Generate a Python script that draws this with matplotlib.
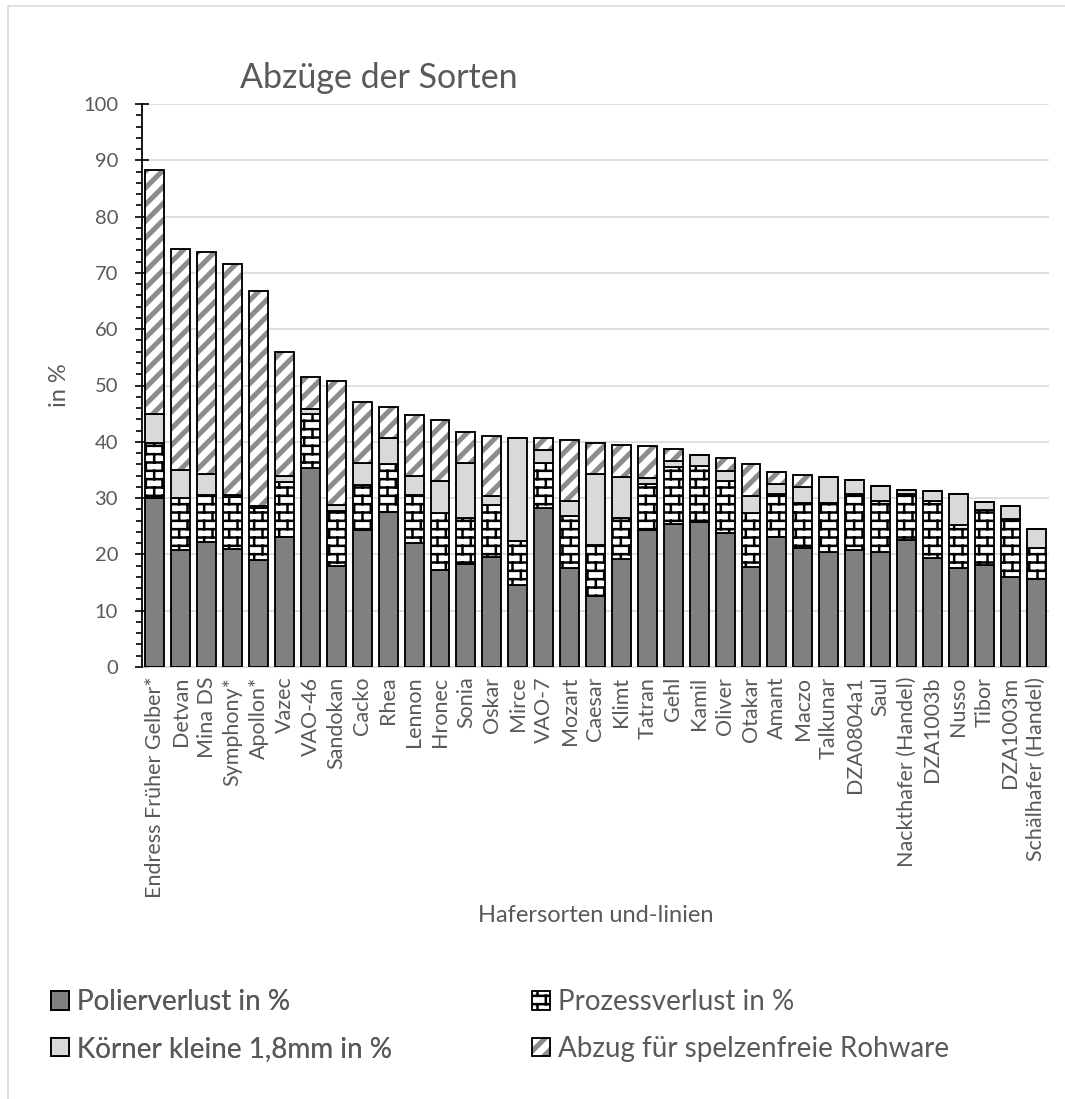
import warnings
import numpy as np
import matplotlib
matplotlib.use("Agg")
import matplotlib.pyplot as plt
import matplotlib.hatch as mhatch
from matplotlib.path import Path
from matplotlib.patches import Patch, Rectangle
from matplotlib.legend_handler import HandlerTuple
from matplotlib.ticker import MultipleLocator

warnings.filterwarnings("ignore", message="hatch must consist")

# ---------------------------------------------------------------- data
sorten = ["Endress Früher Gelber*", "Detvan", "Mina DS", "Symphony*", "Apollon*",
          "Vazec", "VAO-46", "Sandokan", "Cacko", "Rhea", "Lennon", "Hronec",
          "Sonia", "Oskar", "Mirce", "VAO-7", "Mozart", "Caesar", "Klimt",
          "Tatran", "Gehl", "Kamil", "Oliver", "Otakar", "Amant", "Maczo",
          "Talkunar", "DZA0804a1", "Saul", "Nackthafer (Handel)", "DZA1003b",
          "Nusso", "Tibor", "DZA1003m", "Schälhafer (Handel)"]

polierverlust = [30.0, 20.7, 22.2, 21.0, 19.0, 23.1, 35.4, 17.9, 24.4, 27.6,
                 22.1, 17.2, 18.3, 19.6, 14.5, 28.2, 17.6, 12.6, 19.1, 24.3,
                 25.4, 25.7, 23.8, 17.7, 23.1, 21.1, 20.5, 20.8, 20.5, 22.6,
                 19.3, 17.6, 18.1, 16.0, 15.6]
prozessverlust = [9.8, 9.3, 8.3, 9.2, 9.2, 9.8, 9.6, 9.8, 8.0, 8.5,
                  8.5, 10.1, 8.1, 9.2, 7.9, 8.0, 9.3, 9.1, 7.3, 8.2,
                  10.1, 10.0, 9.2, 9.6, 7.7, 8.0, 8.6, 9.9, 8.9, 8.2,
                  10.1, 7.6, 9.7, 10.2, 5.5]
koerner_klein = [5.1, 5.0, 3.7, 0.4, 0.4, 1.0, 0.9, 1.1, 3.8, 4.5,
                 3.4, 5.8, 9.8, 1.6, 18.3, 2.3, 2.6, 12.6, 7.4, 1.1,
                 1.1, 2.0, 1.9, 3.1, 1.7, 2.8, 4.6, 2.6, 2.7, 0.6,
                 1.8, 5.5, 1.5, 2.4, 3.5]
abzug_spelzenfrei = [43.3, 39.3, 39.6, 41.0, 38.1, 22.1, 5.6, 22.0, 10.8, 5.6,
                     10.8, 10.8, 5.6, 10.7, 0.0, 2.2, 10.8, 5.5, 5.6, 5.6,
                     2.2, 0.0, 2.2, 5.6, 2.2, 2.2, 0.0, 0.0, 0.0, 0.0,
                     0.0, 0.0, 0.0, 0.0, 0.0]

serien = ["Polierverlust in %", "Prozessverlust in %",
          "Körner kleine 1,8mm in %", "Abzug für spelzenfreie Rohware"]
titel = "Abzüge der Sorten"
x_titel = "Hafersorten und-linien"
y_titel = "in %"


# ------------------------------------------------------ brick hatch 'b'
class BrickHatch(mhatch.HatchPatternBase):
    rows = 12
    cols = 6

    def __init__(self, hatch, density):
        if hatch.count("b") > 0:
            self.num_vertices = 2 * (self.rows + self.rows * self.cols + self.cols)
        else:
            self.num_vertices = 0

    def set_vertices_and_codes(self, vertices, codes):
        h = 1.0 / self.rows
        w = 1.0 / self.cols
        ys = (np.arange(self.rows) + 0.5) * h
        verts = []
        for y in ys:
            verts += [(0.0, y), (1.0, y)]
        for i, y in enumerate(ys):
            off = w / 4 + (w / 2 if i % 2 else 0.0)
            for j in range(self.cols):
                xv = off + j * w
                verts += [(xv, y), (xv, min(y + h, 1.0))]
        # wrap of the last (odd) row below the first line
        for j in range(self.cols):
            xv = w / 4 + w / 2 + j * w
            verts += [(xv, 0.0), (xv, ys[0])]
        vertices[:] = np.array(verts)
        codes[0::2] = Path.MOVETO
        codes[1::2] = Path.LINETO


# ------------------------------------------- wide upward stripes 'w'
class WideStripeHatch(mhatch.HatchPatternBase):
    per_tile = 6
    offsets = (-0.018, 0.0, 0.018)

    def __init__(self, hatch, density):
        if hatch.count("w") > 0:
            n = 2 * self.per_tile + 1
            self.num_vertices = 2 * n * len(self.offsets)
        else:
            self.num_vertices = 0

    def set_vertices_and_codes(self, vertices, codes):
        verts = []
        for kk in range(-self.per_tile, self.per_tile + 1):
            c = kk / self.per_tile
            for d in self.offsets:
                verts += [(0.0, c + d), (1.0, 1.0 + c + d)]
        vertices[:] = np.array(verts)
        codes[0::2] = Path.MOVETO
        codes[1::2] = Path.LINETO


mhatch._hatch_types.append(BrickHatch)
mhatch._hatch_types.append(WideStripeHatch)

# --------------------------------------------------------------- style
plt.rcParams["font.family"] = ["Lato", "DejaVu Sans"]
plt.rcParams["hatch.linewidth"] = 1.8
TXT = "#595959"
GRID = "#d9d9d9"
DUNKEL = "#808080"
HELL = "#d9d9d9"
STREIFEN = "#8c8c8c"
EDGE_LW = 1.35

W, H = 1065, 1099
fig = plt.figure(figsize=(W / 100, H / 100), dpi=100)
fig.patch.set_facecolor("white")

# chart-area frame (left and top edges lie inside the canvas)
fig.patches.append(Rectangle((8 / W, -0.2), 1.5, 1.2 - 6 / H,
                             transform=fig.transFigure, fill=False,
                             edgecolor=GRID, lw=1.2))

ax_l, ax_r, ax_b, ax_t = 142, 1049, 667, 104
ax = fig.add_axes([ax_l / W, 1 - ax_b / H, (ax_r - ax_l) / W, (ax_b - ax_t) / H])

x = np.arange(len(sorten))
bw = 0.73
p = np.array(polierverlust)
q = np.array(prozessverlust)
k = np.array(koerner_klein)
a = np.array(abzug_spelzenfrei)

ax.bar(x, p, bw, color=DUNKEL, edgecolor="black", lw=EDGE_LW, zorder=3)
ax.bar(x, q, bw, bottom=p, facecolor="white", edgecolor="black",
       hatch="b", lw=EDGE_LW, zorder=3)
ax.bar(x, k, bw, bottom=p + q, color=HELL, edgecolor="black", lw=EDGE_LW, zorder=3)
ax.bar(x, a, bw, bottom=p + q + k, facecolor="white",
       edgecolor=STREIFEN, hatch="w", lw=0, zorder=3)
ax.bar(x, a, bw, bottom=p + q + k, fill=False, edgecolor="black",
       lw=EDGE_LW, zorder=4)

ax.set_xlim(-0.5, len(sorten) - 0.5)
ax.set_ylim(0, 100)
ax.yaxis.set_major_locator(MultipleLocator(10))
ax.yaxis.set_minor_locator(MultipleLocator(2))
ax.set_xticks(x)
ax.set_xticklabels(sorten, rotation=90, fontsize=15.5, color=TXT)
ax.tick_params(axis="x", length=0, pad=7)
ax.tick_params(axis="y", which="major", direction="inout", length=9.5,
               width=1.2, color="black", pad=12.5, labelsize=14.5,
               labelcolor=TXT)
ax.tick_params(axis="y", which="minor", direction="out", length=4.5,
               width=1.2, color="black")

ax.grid(axis="y", color=GRID, lw=1.2, zorder=0)
ax.set_axisbelow(True)
for s in ("top", "right"):
    ax.spines[s].set_visible(False)
ax.spines["left"].set_color("black")
ax.spines["left"].set_linewidth(1.3)
ax.spines["left"].set_zorder(5)
ax.spines["bottom"].set_color(GRID)
ax.spines["bottom"].set_linewidth(1.2)

ax.set_ylabel(y_titel, fontsize=17, color=TXT)
ax.yaxis.set_label_coords((59 - ax_l) / (ax_r - ax_l), 0.5)
ax.yaxis.label.set_va("center")
ax.set_xlabel(x_titel, fontsize=17, color=TXT)
ax.xaxis.set_label_coords(0.5, (ax_b - 915) / (ax_b - ax_t))
ax.xaxis.label.set_va("center")

fig.text(379 / W, 1 - 78 / H, titel, fontsize=24.5, color=TXT,
         ha="center", va="center")

# ------------------------------------------------------------- legend
h_p = Patch(facecolor=DUNKEL, edgecolor="black", lw=EDGE_LW)
h_q = Patch(facecolor="white", edgecolor="black", hatch="b", lw=EDGE_LW)
h_k = Patch(facecolor=HELL, edgecolor="black", lw=EDGE_LW)
h_a1 = Patch(facecolor="white", edgecolor=STREIFEN, hatch="w", lw=0)
h_a2 = Patch(fill=False, edgecolor="black", lw=EDGE_LW)

leg_kw = dict(loc="center left", frameon=False, fontsize=20,
              handlelength=0.65, handleheight=0.65, handletextpad=0.3,
              labelspacing=0.75, borderpad=0, borderaxespad=0,
              labelcolor=TXT,
              handler_map={tuple: HandlerTuple(ndivide=1, pad=0)})
ymid = 1 - 1025.5 / H
leg1 = fig.legend([h_p, h_k], [serien[0], serien[2]],
                  bbox_to_anchor=(51 / W, ymid), **leg_kw)
fig.add_artist(leg1)
fig.legend([h_q, (h_a1, h_a2)], [serien[1], serien[3]],
           bbox_to_anchor=(532 / W, ymid), **leg_kw)

fig.savefig("out.png", dpi=100)
